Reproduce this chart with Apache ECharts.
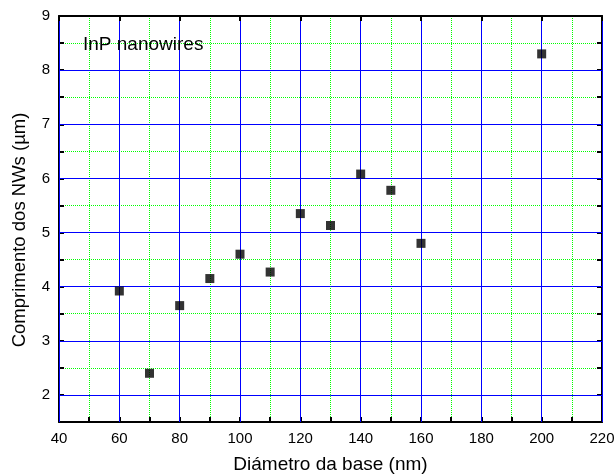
<!DOCTYPE html>
<html>
<head>
<meta charset="utf-8">
<script src="https://cdn.jsdelivr.net/npm/echarts@6/dist/echarts.min.js"></script>
<style>
  html, body { margin: 0; padding: 0; background: #fff; }
  #chart { width: 616px; height: 474px; }
</style>
</head>
<body>
<div id="chart"></div>
<script>
// base diameter (nm) and NW length (um)
const diameters = [60, 70, 80, 90, 100, 110, 120, 130, 140, 150, 160, 200];
const lengths = [3.92, 2.40, 3.65, 4.15, 4.60, 4.27, 5.35, 5.13, 6.08, 5.78, 4.80, 8.30];

const xRange = [40, 220];
const yRange = [1.5, 9];

const FONT = '"Liberation Sans", Arial, sans-serif';
const GREEN = '#00ff00';
const BLUE = '#0000ff';

const chart = echarts.init(document.getElementById('chart'));

const frameLine = { show: true, lineStyle: { color: '#000', width: 2 } };
const frameTick = { inside: true, length: 5, lineStyle: { color: '#000', width: 2 } };

// grid 1 is the same box stretched half a unit lower, so its y axis can
// start at 1 and put the blue major lines on whole numbers
const options = {
  animation: false,
  textStyle: { fontFamily: FONT },
  grid: [
    { left: 59, right: 14, top: 16, bottom: 52, outerBoundsMode: 'none' },
    { left: 59, right: 14, top: 16, bottom: 25, outerBoundsMode: 'none' }
  ],
  title: {
    text: 'InP nanowires',
    left: 78, top: 30,
    textStyle: { fontFamily: FONT, fontSize: 19, fontWeight: 'normal', color: '#000' }
  },
  xAxis: [
    {
      type: 'value', gridIndex: 0, position: 'bottom',
      min: xRange[0], max: xRange[1], interval: 10,
      name: 'Diámetro da base (nm)', nameLocation: 'middle', nameGap: 33,
      nameTextStyle: { fontSize: 19, color: '#000', fontFamily: FONT },
      axisLine: frameLine,
      axisTick: frameTick,
      axisLabel: {
        fontSize: 15, color: '#000', margin: 9, fontFamily: FONT,
        formatter: v => (v % 20 === 0 ? String(v) : '')
      },
      splitLine: { show: true, lineStyle: { color: GREEN, type: 'dotted', width: 1 } }
    },
    {
      type: 'value', gridIndex: 0, position: 'top', z: 1,
      min: xRange[0], max: xRange[1], interval: 20,
      axisLine: frameLine,
      axisTick: frameTick,
      axisLabel: { show: false },
      splitLine: { show: true, lineStyle: { color: BLUE, type: 'solid', width: 1 } }
    },
    {
      type: 'value', gridIndex: 1,
      min: xRange[0], max: xRange[1], interval: 20,
      axisLine: { show: false }, axisTick: { show: false },
      axisLabel: { show: false }, splitLine: { show: false }
    }
  ],
  yAxis: [
    {
      type: 'value', gridIndex: 0, position: 'left',
      min: yRange[0], max: yRange[1], interval: 0.5,
      name: 'Comprimento dos NWs (µm)', nameLocation: 'middle', nameGap: 30,
      nameTextStyle: { fontSize: 18.5, color: '#000', fontFamily: FONT, padding: [0, 22, 0, 0] },
      axisLine: frameLine,
      axisTick: frameTick,
      axisLabel: {
        fontSize: 15, color: '#000', margin: 9, fontFamily: FONT,
        formatter: v => (Number.isInteger(v) ? String(v) : '')
      },
      splitLine: { show: true, lineStyle: { color: GREEN, type: 'dotted', width: 1 } }
    },
    {
      type: 'value', gridIndex: 0, position: 'right',
      min: yRange[0], max: yRange[1], interval: 0.5,
      axisLine: frameLine,
      axisTick: frameTick,
      axisLabel: { show: false },
      splitLine: { show: false }
    },
    {
      type: 'value', gridIndex: 1, z: 1,
      min: 1, max: yRange[1], interval: 1,
      axisLine: { show: false }, axisTick: { show: false },
      axisLabel: { show: false },
      splitLine: {
        show: true, showMinLine: false, showMaxLine: false,
        lineStyle: { color: BLUE, type: 'solid', width: 1 }
      }
    }
  ],
  series: [
    {
      type: 'scatter',
      xAxisIndex: 0, yAxisIndex: 0,
      symbol: 'rect', symbolSize: 9,
      itemStyle: { color: '#000' },
      z: 10,
      data: diameters.map((d, i) => [d, lengths[i]])
    }
  ]
};

chart.setOption(options);
</script>
</body>
</html>
